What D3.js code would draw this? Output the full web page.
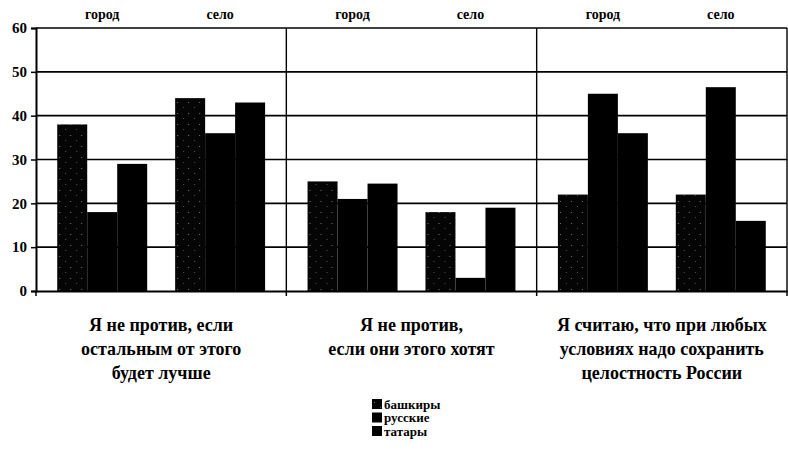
<!DOCTYPE html>
<html>
<head>
<meta charset="utf-8">
<script src="https://cdn.jsdelivr.net/npm/d3@7"></script>
<style>
  body { margin: 0; background: #fff; }
</style>
</head>
<body>
<div id="chart"></div>
<script>
// categories
const questions = ["q1", "q2", "q3"];
const questionLines = [
  ["Я не против, если", "остальным от этого", "будет лучше"],
  ["Я не против,", "если они этого хотят"],
  ["Я считаю, что при любых", "условиях надо сохранить", "целостность России"]
];
const areas = ["город", "село"];
const groups = ["башкиры", "русские", "татары"];

// values, in order q1-город, q1-село, q2-город, q2-село, q3-город, q3-село
const bashkirs = [38, 44, 25, 18, 22, 22];
const russians = [18, 36, 21, 3, 45, 46.5];
const tatars   = [29, 43, 24.5, 19, 36, 16];

const yTicks = [0, 10, 20, 30, 40, 50, 60];

const width = 788, height = 450;
const plotLeft = 36, plotRight = 787, plotTop = 28, plotBottom = 291;
const serif = "'Liberation Serif', 'Times New Roman', 'DejaVu Serif', serif";

const svg = d3.select('#chart').append('svg')
  .attr('width', width)
  .attr('height', height)
  .attr('font-family', serif)
  .attr('font-weight', 'bold');

// speckled fill for the first series
const defs = svg.append('defs');
const pat = defs.append('pattern')
  .attr('id', 'speckle')
  .attr('patternUnits', 'userSpaceOnUse')
  .attr('width', 11).attr('height', 11);
pat.append('rect').attr('width', 11).attr('height', 11).attr('fill', '#050505');
pat.append('rect').attr('x', 2).attr('y', 3).attr('width', 1).attr('height', 1).attr('fill', '#777');
pat.append('rect').attr('x', 8).attr('y', 8).attr('width', 1).attr('height', 1).attr('fill', '#555');

const fills = ['url(#speckle)', '#000', '#000'];

const rows = [];
questions.forEach((q, qi) => {
  areas.forEach((a, ai) => {
    const idx = qi * areas.length + ai;
    rows.push({ q, a, vals: [bashkirs[idx], russians[idx], tatars[idx]] });
  });
});

const x0 = d3.scaleBand().domain(questions).range([plotLeft, plotRight]);
const x1 = d3.scaleBand().domain(areas).range([0, x0.bandwidth()])
  .paddingInner(0.237).paddingOuter(0.18);
const x2 = d3.scaleBand().domain(groups).range([0, x1.bandwidth()]);
const y = d3.scaleLinear().domain([0, 60]).range([plotBottom, plotTop]);

// gridlines
svg.append('g')
  .selectAll('line')
  .data(yTicks.filter(t => t > 0))
  .join('line')
  .attr('x1', plotLeft).attr('x2', plotRight)
  .attr('y1', d => y(d)).attr('y2', d => y(d))
  .attr('stroke', '#000')
  .attr('stroke-width', 1.6);

// bars
const grp = svg.append('g')
  .selectAll('g')
  .data(rows)
  .join('g')
  .attr('transform', d => `translate(${x0(d.q) + x1(d.a)},0)`);

grp.selectAll('rect')
  .data(d => d.vals.map((v, i) => ({ v, i })))
  .join('rect')
  .attr('x', d => x2(groups[d.i]))
  .attr('y', d => y(d.v))
  .attr('width', x2.bandwidth())
  .attr('height', d => plotBottom - y(d.v))
  .attr('fill', d => fills[d.i]);

// panel dividers and right border
svg.append('g')
  .selectAll('line')
  .data(questions.slice(1).map(q => x0(q)).concat([plotRight]))
  .join('line')
  .attr('x1', d => d).attr('x2', d => d)
  .attr('y1', plotTop).attr('y2', plotBottom)
  .attr('stroke', '#000')
  .attr('stroke-width', 1.4);

// y axis
const yAxis = svg.append('g')
  .attr('transform', `translate(${plotLeft},0)`)
  .call(d3.axisLeft(y).tickValues(yTicks).tickSize(5).tickPadding(4));
yAxis.attr('font-family', serif).attr('font-size', 15);
yAxis.select('.domain').attr('stroke-width', 2);
yAxis.selectAll('.tick line').attr('stroke-width', 1.5);
yAxis.selectAll('text').attr('fill', '#000').style('font-weight', '900');

// x axis
const xAxis = svg.append('g')
  .attr('transform', `translate(0,${plotBottom})`)
  .call(d3.axisBottom(x0).tickValues([]).tickSizeOuter(0));
xAxis.select('.domain').attr('stroke-width', 2);
xAxis.selectAll('line.sep')
  .data(questions.map(q => x0(q)).concat([plotRight]))
  .join('line')
  .attr('class', 'sep')
  .attr('x1', d => d).attr('x2', d => d)
  .attr('y1', 0).attr('y2', 5)
  .attr('stroke', '#000').attr('stroke-width', 1.5);

// area labels on top
svg.append('g')
  .selectAll('text')
  .data(rows)
  .join('text')
  .attr('x', d => x0(d.q) + x1(d.a) + x1.bandwidth() / 2)
  .attr('y', 19)
  .attr('text-anchor', 'middle')
  .attr('font-size', 14)
  .text(d => d.a);

// question labels
const ql = svg.append('g')
  .selectAll('text')
  .data(questions)
  .join('text')
  .attr('text-anchor', 'middle')
  .attr('font-size', 18)
  .attr('transform', d => `translate(${x0(d) + x0.bandwidth() / 2},0)`);
ql.selectAll('tspan')
  .data((d, i) => questionLines[i])
  .join('tspan')
  .attr('x', 0)
  .attr('y', (d, i) => 331 + i * 24)
  .text(d => d);

// legend
const legend = svg.append('g')
  .attr('transform', 'translate(372,399)');
const li = legend.selectAll('g')
  .data(groups)
  .join('g')
  .attr('transform', (d, i) => `translate(0,${i * 13.5})`);
li.append('rect')
  .attr('width', 10).attr('height', 10)
  .attr('fill', (d, i) => fills[i]);
li.append('text')
  .attr('x', 12).attr('y', 9.5)
  .attr('font-size', 13)
  .text(d => d);
</script>
</body>
</html>
